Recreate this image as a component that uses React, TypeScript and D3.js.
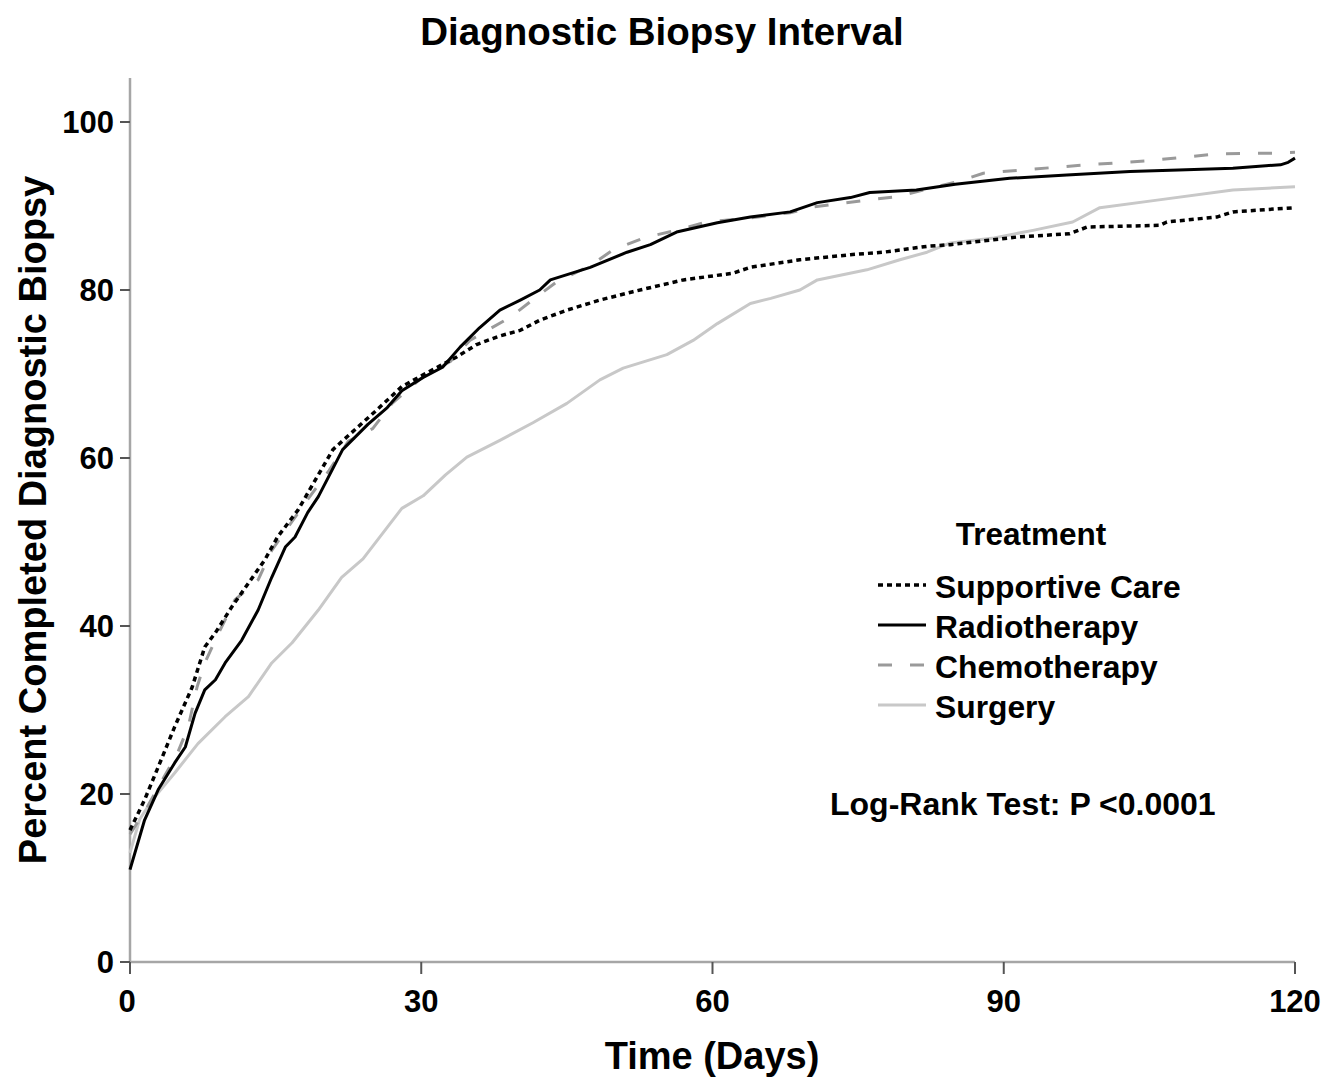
import React from 'react';
import * as d3 from 'd3';

// --- Data: [day, percent] ---
const supportiveCare: [number, number][] = [
    [0, 15.7], [1.5, 19.3], [2.9, 23.2], [4.6, 28], [6.4, 32.7], [7.7, 37.5], [8.8, 39.2], [10.5, 42.3],
    [12.2, 45.1], [13.9, 47.9], [15.2, 50.6], [17.3, 53.8], [18.5, 56.2], [20.9, 61], [25.4, 65.7], [28, 68.5],
    [30.2, 69.9], [33.6, 72], [35.7, 73.5], [38, 74.5], [40.2, 75.2], [42.2, 76.4], [45, 77.6], [48.4, 78.8],
    [51.8, 79.8], [57, 81.2], [62.1, 82], [63.9, 82.7], [69, 83.6], [74.2, 84.2], [77.6, 84.5], [82.1, 85.2],
    [84.5, 85.4], [91.3, 86.3], [96.8, 86.7], [98.6, 87.5], [106.1, 87.7], [106.8, 88.1], [112, 88.7],
    [113.6, 89.3], [120, 89.8],
];

const radiotherapy: [number, number][] = [
    [0, 11], [1.5, 16.9], [2.9, 20.5], [4.6, 23.7], [5.7, 25.6], [6.7, 29.6], [7.7, 32.4], [8.8, 33.6],
    [9.8, 35.6], [11.5, 38.3], [13.2, 41.9], [14.6, 45.8], [16, 49.4], [17, 50.6], [18.3, 53.5], [19.4, 55.4],
    [21.9, 61], [24.5, 64], [26.5, 66], [28, 68], [30.2, 69.6], [32.2, 70.8], [34, 73.2], [36, 75.5],
    [38.1, 77.6], [40.2, 78.8], [42.2, 80], [43.3, 81.2], [47.4, 82.7], [51.2, 84.5], [53.6, 85.4],
    [56.3, 86.9], [60.5, 88], [63.9, 88.7], [68, 89.3], [70.8, 90.4], [74.2, 91], [76.2, 91.6], [81, 91.9],
    [85, 92.6], [90.6, 93.3], [96.5, 93.7], [103, 94.1], [108, 94.3], [113.6, 94.5], [117, 94.8],
    [118.5, 94.9], [119.3, 95.2], [120, 95.7],
];

const chemotherapy: [number, number][] = [
    [0, 15.2], [1.8, 18.5], [4.9, 24.9], [6, 28], [6.9, 32.7], [7.7, 35.6], [9.1, 39.1], [10.8, 43.1],
    [13.2, 45.5], [14.6, 49], [16.3, 51.8], [18, 54.6], [20.5, 58.5], [22.5, 62], [25, 63.5], [27, 66.5],
    [30, 69.5], [33, 71.5], [35, 74], [36.8, 75.2], [39.1, 76.7], [41.9, 79.2], [44, 81], [47.4, 82.9],
    [49.8, 84.8], [53.2, 86.3], [56.3, 87.1], [59.4, 88.1], [64, 88.6], [68, 89.2], [70.4, 89.9],
    [75.9, 90.7], [79, 91.1], [81.7, 91.9], [85.2, 92.9], [87.9, 93.9], [92, 94.3], [98.6, 94.9],
    [105, 95.4], [108.5, 95.8], [112, 96.2], [118.1, 96.3], [120, 96.4],
];

const surgery: [number, number][] = [
    [0, 13], [1, 17], [2.3, 19.3], [4.6, 22.5], [7, 26], [9.8, 29.2], [12.2, 31.6], [14.6, 35.6],
    [16.7, 38], [19.4, 41.9], [21.8, 45.8], [24, 48], [26, 51], [28, 54], [30.2, 55.5], [32.5, 58],
    [34.7, 60.1], [38.1, 62.1], [41.5, 64.2], [45, 66.5], [48.4, 69.3], [50.8, 70.7], [55.3, 72.3],
    [58, 74], [60.5, 76], [63.9, 78.4], [66, 79], [69, 80], [70.8, 81.2], [75.9, 82.4], [79.3, 83.6],
    [82.1, 84.5], [84.5, 85.6], [89, 86.2], [93, 87.1], [97.1, 88.1], [99.9, 89.8], [105.8, 90.7],
    [113.6, 91.9], [120, 92.3],
];

const xTicks = [0, 30, 60, 90, 120];
const yTicks = [0, 20, 40, 60, 80, 100];

// --- Series styling (drawn bottom to top) ---
const series = [
    { name: 'Surgery', data: surgery, color: '#c8c8c8', width: 3, dash: null },
    { name: 'Chemotherapy', data: chemotherapy, color: '#9a9a9a', width: 3, dash: '14,18' },
    { name: 'Radiotherapy', data: radiotherapy, color: '#000', width: 3, dash: null },
    { name: 'Supportive Care', data: supportiveCare, color: '#000', width: 3.5, dash: '5,4' },
];
const legendOrder = ['Supportive Care', 'Radiotherapy', 'Chemotherapy', 'Surgery'];

const FONT = '"Liberation Sans", Arial, sans-serif';

export default function App() {
    const width = 1327;
    const height = 1080;
    const margin = { left: 130, right: 32, top: 122, bottom: 118 };

    const x = d3.scaleLinear().domain([0, 120]).range([margin.left, width - margin.right]);
    const y = d3.scaleLinear().domain([0, 100]).range([height - margin.bottom, margin.top]);

    const line = d3.line<[number, number]>()
        .x(d => x(d[0]))
        .y(d => y(d[1]))
        .curve(d3.curveLinear);

    const axisColor = '#a6a6a6';
    const tickColor = '#555';

    return (
        <svg width={width} height={height} style={{ position: 'absolute', left: 0, top: 0, background: '#fff' }}
             fontFamily={FONT} fontWeight="bold">
            {/* title */}
            <text x={662} y={45} textAnchor="middle" fontSize={38.5}>Diagnostic Biopsy Interval</text>

            {/* axes */}
            <line x1={x(0)} x2={x(0)} y1={78} y2={y(0)} stroke={axisColor} strokeWidth={2.5} />
            <line x1={x(0)} x2={x(120)} y1={y(0)} y2={y(0)} stroke={axisColor} strokeWidth={2.5} />
            {yTicks.map(t => (
                <g key={'y' + t}>
                    <line x1={x(0) - 10} x2={x(0)} y1={y(t)} y2={y(t)} stroke={tickColor} strokeWidth={2} />
                    <text x={114} y={y(t) + 11} textAnchor="end" fontSize={31}>{t}</text>
                </g>
            ))}
            {xTicks.map(t => (
                <g key={'x' + t}>
                    <line x1={x(t)} x2={x(t)} y1={y(0)} y2={y(0) + 12} stroke={tickColor} strokeWidth={2} />
                    <text x={x(t) - (t === 0 ? 3 : 0)} y={1012} textAnchor="middle" fontSize={31}>{t}</text>
                </g>
            ))}

            {/* axis titles */}
            <text x={712} y={1069} textAnchor="middle" fontSize={38}>Time (Days)</text>
            <text transform="translate(46,520) rotate(-90)" textAnchor="middle" fontSize={38}>
                Percent Completed Diagnostic Biopsy
            </text>

            {/* curves */}
            {series.map(s => (
                <path key={s.name} d={line(s.data) || ''} fill="none" stroke={s.color}
                      strokeWidth={s.width} strokeDasharray={s.dash || undefined}
                      strokeLinejoin="round" />
            ))}

            {/* legend */}
            <text x={1031} y={545} textAnchor="middle" fontSize={31.5}>Treatment</text>
            {legendOrder.map((name, i) => {
                const s = series.find(d => d.name === name)!;
                const by = 598 + i * 40;
                return (
                    <g key={name}>
                        <line x1={878} x2={926} y1={by - 13} y2={by - 13} stroke={s.color}
                              strokeWidth={s.width} strokeDasharray={s.dash || undefined} />
                        <text x={935} y={by} fontSize={31.8}>{name}</text>
                    </g>
                );
            })}

            <text x={830} y={815} fontSize={32}>Log-Rank Test: P &lt;0.0001</text>
        </svg>
    );
}
